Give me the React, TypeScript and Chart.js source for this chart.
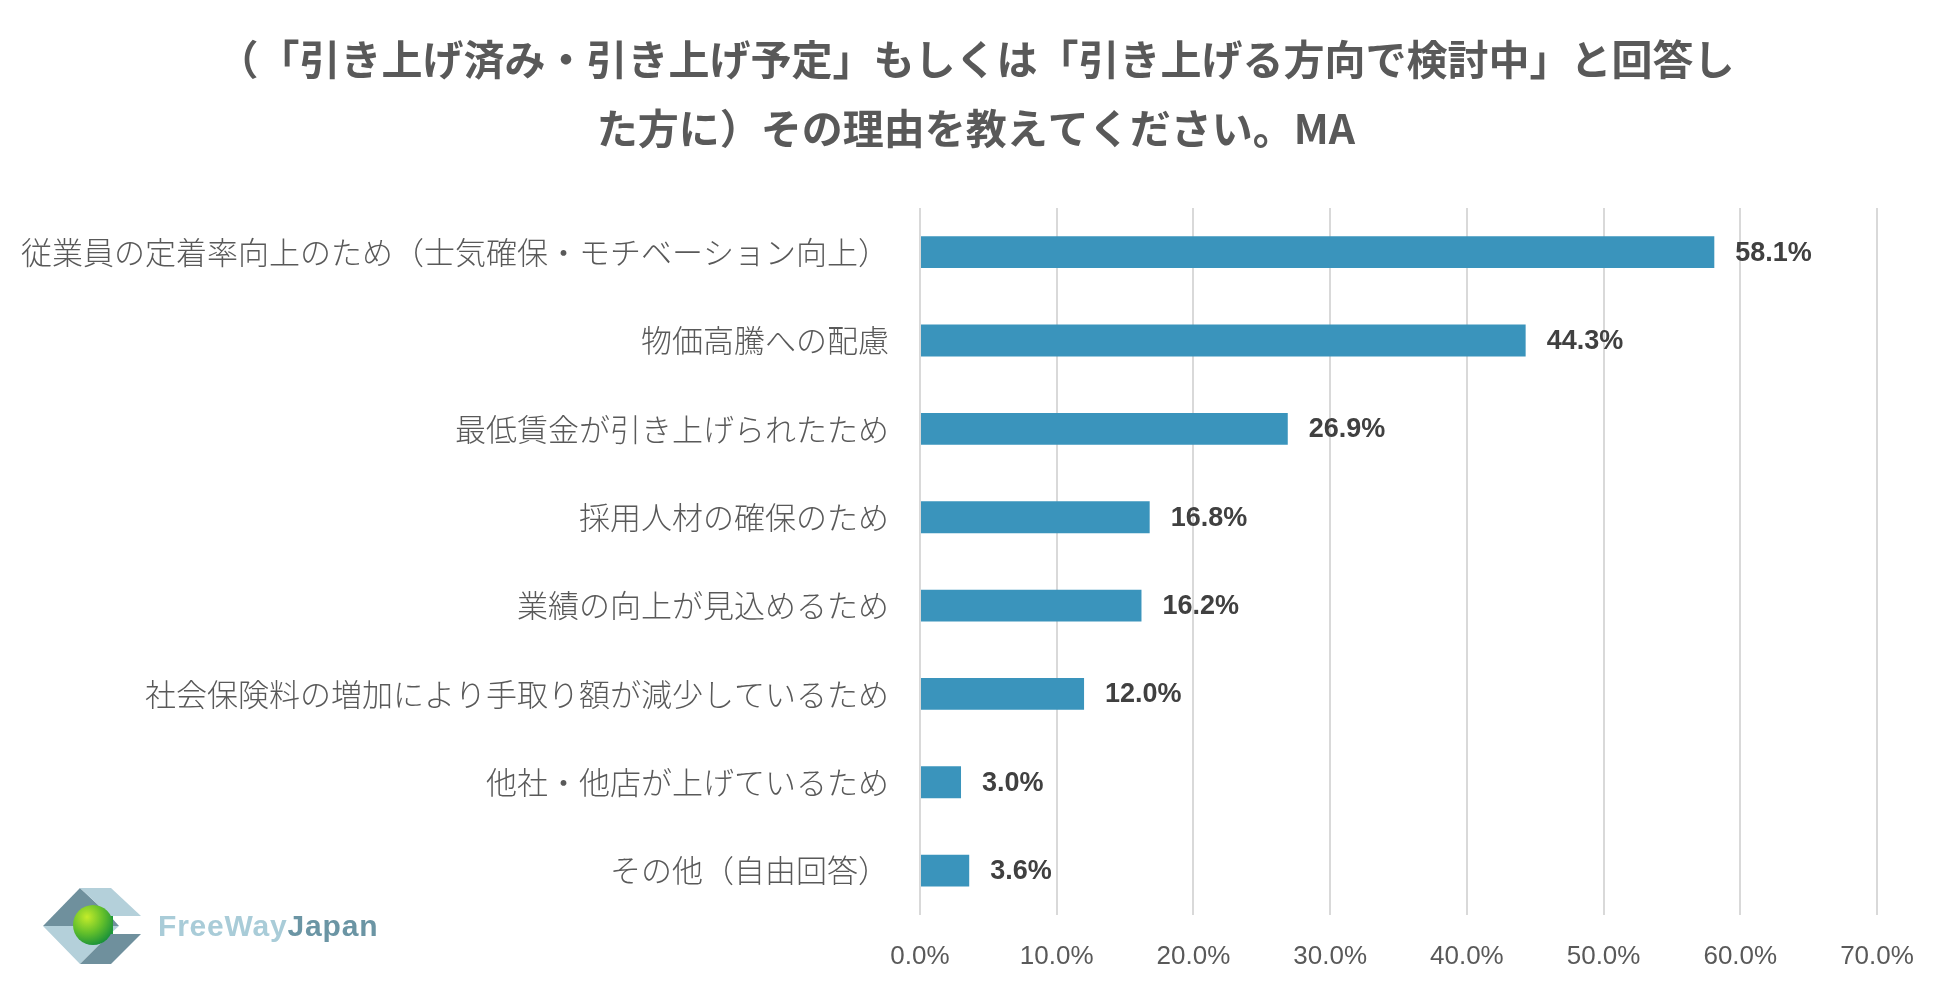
import React, { useEffect, useRef } from "react";
import { Chart, registerables } from "chart.js";

Chart.register(...registerables);

const titleLines = [
  "（「引き上げ済み・引き上げ予定」もしくは「引き上げる方向で検討中」と回答し",
  "た方に）その理由を教えてください。MA",
];

const categories = [
  "従業員の定着率向上のため（士気確保・モチベーション向上）",
  "物価高騰への配慮",
  "最低賃金が引き上げられたため",
  "採用人材の確保のため",
  "業績の向上が見込めるため",
  "社会保険料の増加により手取り額が減少しているため",
  "他社・他店が上げているため",
  "その他（自由回答）",
];

const values = [58.1, 44.3, 26.9, 16.8, 16.2, 12.0, 3.0, 3.6];

const axisMin = 0;
const axisMax = 70;
const axisStep = 10;

const BAR_COLOR = "#3A94BC";
const TEXT_GRAY = "#595959";

const dataLabelPlugin = {
  id: "dataLabels",
  afterDatasetsDraw(chart: any) {
    const { ctx } = chart;
    const meta = chart.getDatasetMeta(0);
    ctx.save();
    ctx.font = 'bold 27px "Liberation Sans", Arial, sans-serif';
    ctx.fillStyle = "#404040";
    ctx.textAlign = "left";
    ctx.textBaseline = "middle";
    meta.data.forEach((el: any, i: number) => {
      ctx.fillText(values[i].toFixed(1) + "%", el.x + 21, el.y + 1);
    });
    ctx.restore();
  },
};

function Logo() {
  return (
    <div
      style={{
        position: "absolute",
        left: 43,
        top: 888,
        display: "flex",
        alignItems: "center",
        height: 76,
      }}
    >
      <svg width="100" height="76" viewBox="0 0 100 76">
        <defs>
          <radialGradient id="gball" cx="0.35" cy="0.3" r="0.75">
            <stop offset="0" stopColor="#C4EC2A" />
            <stop offset="0.55" stopColor="#62BF2B" />
            <stop offset="1" stopColor="#17903A" />
          </radialGradient>
        </defs>
        <polygon points="0,38 37,0 67,28 76,38" fill="#6F909D" />
        <polygon points="37,0 68,0 98,28 67,28" fill="#B4D0DA" />
        <polygon points="0,38 76,38 67,46 37,76" fill="#B4D0DA" />
        <polygon points="37,76 68,76 98,46 67,46" fill="#6F909D" />
        <rect x="52" y="28" width="18" height="18" fill="#1E9A3A" />
        <circle cx="50" cy="37" r="20" fill="url(#gball)" />
      </svg>
      <div
        style={{
          marginLeft: 15,
          fontFamily: '"Liberation Sans", Arial, sans-serif',
          fontWeight: "bold",
          fontSize: 30,
          lineHeight: "30px",
          letterSpacing: "0.8px",
        }}
      >
        <span style={{ color: "#A9CCD8" }}>FreeWay</span>
        <span style={{ color: "#6B95A4" }}>Japan</span>
      </div>
    </div>
  );
}

export default function App() {
  const canvasRef = useRef<HTMLCanvasElement | null>(null);

  useEffect(() => {
    document.body.style.margin = "0";
    document.body.style.background = "#ffffff";
    const canvas = canvasRef.current;
    if (!canvas) return;
    (canvas.style as any).textSpacingTrim = "space-all";
    const chart = new Chart(canvas, {
      type: "bar",
      data: {
        labels: categories,
        datasets: [
          {
            data: values,
            backgroundColor: BAR_COLOR,
            borderWidth: 0,
            barPercentage: 0.36,
            categoryPercentage: 1,
          },
        ],
      },
      options: {
        indexAxis: "y",
        responsive: false,
        maintainAspectRatio: false,
        animation: false,
        devicePixelRatio: 1,
        layout: {
          padding: { left: 2, right: 0, top: 0, bottom: 1 },
        },
        plugins: {
          legend: { display: false },
          tooltip: { enabled: false },
          title: {
            display: true,
            text: titleLines,
            color: TEXT_GRAY,
            font: {
              family: '"Noto Sans CJK JP", sans-serif',
              size: 41,
              weight: "bold",
              lineHeight: 69 / 41,
            },
            padding: { top: 25, bottom: 45 },
          },
        },
        scales: {
          x: {
            type: "linear",
            position: "bottom",
            min: axisMin,
            max: axisMax,
            ticks: {
              stepSize: axisStep,
              color: TEXT_GRAY,
              padding: 26,
              font: { family: '"Liberation Sans", Arial, sans-serif', size: 26 },
              callback: (v: any) => Number(v).toFixed(1) + "%",
            },
            grid: {
              color: "#D9D9D9",
              lineWidth: 2,
              drawTicks: false,
            },
            border: { display: false },
          },
          y: {
            type: "category",
            position: "left",
            ticks: {
              color: TEXT_GRAY,
              padding: 31,
              font: { family: '"Noto Sans CJK JP", sans-serif', size: 31, weight: "300" as any },
            },
            grid: { display: false, drawTicks: false },
            border: { display: false },
            afterFit: (scale: any) => {
              scale.width = 918;
            },
          },
          yRight: {
            type: "category",
            position: "right",
            axis: "y",
            display: true,
            ticks: { display: false },
            grid: { display: false, drawTicks: false },
            border: { display: false },
            afterFit: (scale: any) => {
              scale.width = 73;
            },
          },
        },
      },
      plugins: [dataLabelPlugin],
    } as any);
    return () => chart.destroy();
  }, []);

  return (
    <div style={{ position: "relative", width: 1950, height: 999, background: "#fff" }}>
      <canvas ref={canvasRef} width={1950} height={999} style={{ width: 1950, height: 999, display: "block" }} />
      <Logo />
    </div>
  );
}
